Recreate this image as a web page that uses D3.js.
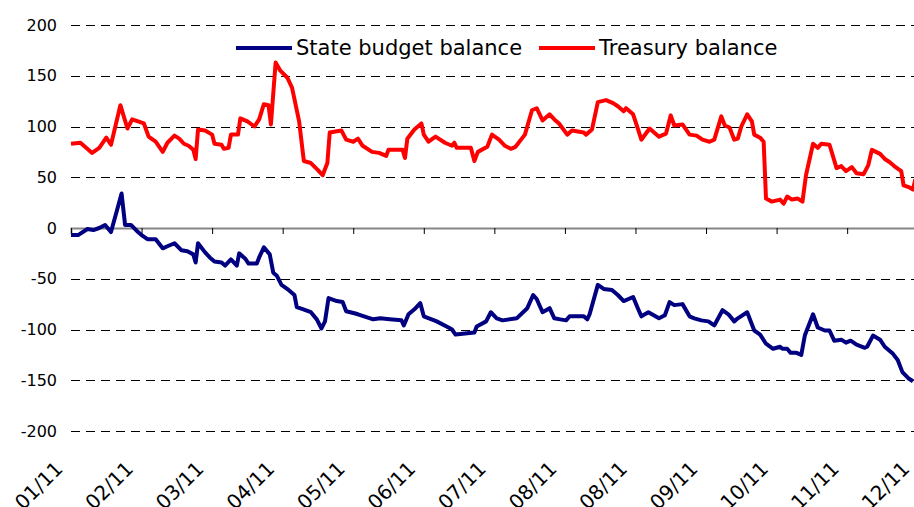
<!DOCTYPE html>
<html>
<head>
<meta charset="utf-8">
<script src="https://cdn.jsdelivr.net/npm/d3@7"></script>
<style>
  body { margin: 0; background: #fff; }
  svg { display: block; font-family: "DejaVu Sans", Verdana, sans-serif; }
</style>
</head>
<body>
<div id="chart"></div>
<script>
// Tick labels of the date axis (one every 30 days)
const xTickLabels = ['01/11', '02/11', '03/11', '04/11', '05/11', '06/11', '07/11',
  '08/11', '08/11', '09/11', '10/11', '11/11', '12/11'];
const yTicks = [-200, -150, -100, -50, 0, 50, 100, 150, 200];

// Treasury balance : days since start / value
const treasuryDays = [0, 4, 9, 12, 15, 17, 21, 24, 26, 31, 33, 36, 39, 41, 44, 46, 48, 50, 52, 53,
  54, 57, 60, 61, 64, 65, 67, 68, 71, 72, 75, 78, 80, 82, 84, 85, 87, 89, 92, 94,
  97, 99, 102, 105, 107, 109, 110, 115, 117, 120, 122, 124, 128, 131, 134, 135, 141, 142, 143, 146,
  149, 150, 152, 155, 159, 162, 163, 164, 170, 171.5, 173, 177, 179, 182, 184.5, 187, 189, 193, 196, 198,
  200.5, 203.5, 205.5, 207.5, 211, 213, 218, 219, 221.5, 224, 227.5, 230.5, 232.5, 235, 236, 239, 241, 242.5, 246, 250,
  253, 255, 256.5, 260, 263, 266, 268.5, 271.5, 273.5, 276.5, 278, 280, 282, 283.5, 285, 287.5, 289.5, 290.5, 293, 294.5,
  295.5, 298, 301.5, 303, 304.5, 306.5, 309, 311, 312.5, 315.5, 317.5, 319, 322.5, 325.5, 327.5, 329.5, 332, 334, 337, 339,
  340.5, 344, 346, 348, 350, 353, 354, 356.5, 358, 359];
const treasuryValues = [83, 84, 74, 79, 89, 82, 121, 98, 107, 103, 90, 85, 75, 84, 91, 88, 83, 81, 77, 68,
  97, 96, 92, 83, 82, 78, 79, 92, 92, 108, 105, 100, 107, 122, 121, 102, 163, 155, 148, 138,
  105, 66, 64, 57, 52, 64, 94, 96, 87, 85, 88, 81, 75, 74, 71, 77, 77, 69, 88, 97,
  103, 92, 85, 90, 84, 81, 84, 79, 79, 66, 75, 80, 92, 87, 81, 78, 80, 92, 116, 118,
  106, 112, 107, 103, 92, 96, 94, 92, 97, 124, 126, 123, 120, 115, 118, 112, 98, 87, 98, 90,
  93, 111, 101, 102, 92, 91, 87, 85, 87, 110, 101, 99, 87, 88, 100, 112, 105, 92, 89, 85,
  29, 26, 28, 24, 31, 28, 29, 26, 52, 83, 79, 83, 82, 59, 61, 56, 60, 54, 53, 62,
  77, 73, 68, 65, 61, 56, 42, 40, 38, 48];

// State budget balance : days since start / value
const budgetDays = [0, 3, 7, 9.5, 12, 14.5, 17, 19.5, 21.5, 23, 25.5, 28.5, 30, 32.5, 36, 39, 41, 44, 47, 49.5,
  52, 53, 54, 57, 59, 61, 64, 65.5, 68, 70.5, 71.5, 74, 75.5, 79, 80, 82, 84.5, 86, 87.5, 89.5,
  92.5, 95, 96, 98.5, 102, 104.5, 106.5, 108, 109.5, 113, 115.5, 117, 120.5, 122, 128.5, 131.5, 135.5, 140.5, 141.5, 143.5,
  146.5, 148.5, 150, 155.5, 160.5, 162, 163.5, 167.5, 171.5, 172.5, 176.5, 178.5, 181, 183.5, 189.5, 194, 196.5, 198, 200.5, 203.5,
  205.5, 208, 210.5, 212, 218, 219.5, 220.5, 224, 226.5, 230, 232.5, 235, 239, 241, 242.5, 245.5, 250, 252.5, 254.5, 256.5,
  260, 263, 265, 268, 271, 273.5, 277, 279.5, 282, 283.5, 287.5, 290.5, 293, 295.5, 298.5, 301.5, 302.5, 304.5, 306, 308.5,
  310.5, 312, 315.5, 317.5, 320.5, 322.5, 324.5, 327.5, 329.5, 331.5, 334, 337.5, 338.5, 341, 344, 346, 349.5, 351.5, 353.5, 356,
  358];
const budgetValues = [-7, -7, -1, -2, 0, 3, -4, 17, 34, 3, 3, -4, -7, -11, -11, -20, -18, -15, -22, -23,
  -26, -34, -15, -24, -29, -33, -34, -37, -31, -37, -25, -30, -35, -35, -29, -19, -26, -44, -47, -56,
  -61, -66, -78, -80, -83, -90, -99, -92, -69, -72, -73, -82, -84, -85, -90, -89, -90, -91, -96, -85,
  -79, -74, -87, -92, -98, -100, -105, -104, -103, -97, -92, -83, -89, -91, -89, -79, -66, -70, -83, -79,
  -89, -90, -91, -87, -87, -90, -85, -56, -60, -61, -66, -72, -68, -79, -87, -83, -89, -86, -73, -76,
  -75, -87, -89, -91, -92, -96, -81, -85, -92, -89, -83, -101, -105, -114, -119, -117, -119, -119, -123, -123,
  -125, -106, -85, -98, -101, -101, -111, -110, -113, -111, -115, -118, -117, -106, -110, -117, -124, -130, -142, -148,
  -151];

const width = 914;
const height = 507;

const svg = d3.select('#chart')
  .append('svg')
  .attr('width', width)
  .attr('height', height);

// Echelles
const x = d3.scaleLinear().domain([0, 360]).range([71, 917.7]);
const y = d3.scaleLinear().domain([-200, 200]).range([431, 25]);

// Grille horizontale (pointillés) sauf zéro
svg.append('g')
  .selectAll('line')
  .data(yTicks.filter(d => d !== 0))
  .enter().append('line')
  .attr('x1', x(0))
  .attr('x2', width)
  .attr('y1', d => Math.round(y(d)) + 0.5)
  .attr('y2', d => Math.round(y(d)) + 0.5)
  .attr('stroke', '#000')
  .attr('stroke-width', 1)
  .attr('stroke-dasharray', '9,6');

// Libellés de l'axe Y
svg.append('g')
  .selectAll('text')
  .data(yTicks)
  .enter().append('text')
  .attr('x', 57)
  .attr('y', d => y(d))
  .attr('dy', '0.35em')
  .attr('text-anchor', 'end')
  .attr('font-size', 16)
  .attr('fill', '#000')
  .text(d => d);

// Axe horizontal à zéro avec ses graduations
const tickValues = xTickLabels.map((d, i) => i * 30);
const xAxis = d3.axisBottom(x)
  .tickValues(tickValues)
  .tickSize(6)
  .tickFormat('');
const gx = svg.append('g')
  .attr('transform', `translate(0,${Math.round(y(0))})`)
  .call(xAxis);
gx.select('.domain').attr('stroke', '#868686').attr('stroke-width', 2);
gx.selectAll('.tick line').attr('stroke', '#000');

// Libellés de dates, en bas, inclinés
svg.append('g')
  .selectAll('text')
  .data(xTickLabels)
  .enter().append('text')
  .attr('transform', (d, i) => `translate(${x(i * 30) - 7},470) rotate(-45)`)
  .attr('text-anchor', 'end')
  .attr('font-size', 20)
  .attr('fill', '#000')
  .text(d => d);

// Courbes
const line = d3.line()
  .x(d => x(d[0]))
  .y(d => y(d[1]));

const treasury = treasuryDays.map((d, i) => [d, treasuryValues[i]]);
const budget = budgetDays.map((d, i) => [d, budgetValues[i]]);

svg.append('path')
  .datum(treasury)
  .attr('d', line)
  .attr('fill', 'none')
  .attr('stroke', '#ff0000')
  .attr('stroke-width', 4)
  .attr('stroke-linejoin', 'round');

svg.append('path')
  .datum(budget)
  .attr('d', line)
  .attr('fill', 'none')
  .attr('stroke', '#000080')
  .attr('stroke-width', 4)
  .attr('stroke-linejoin', 'round');

// Légende
const legend = [
  { name: 'State budget balance', color: '#000080', x: 236 },
  { name: 'Treasury balance', color: '#ff0000', x: 539 }
];
const lg = svg.append('g')
  .selectAll('g')
  .data(legend)
  .enter().append('g')
  .attr('transform', d => `translate(${d.x},48)`);
lg.append('line')
  .attr('x1', 0)
  .attr('x2', 56)
  .attr('stroke', d => d.color)
  .attr('stroke-width', 4);
lg.append('text')
  .attr('x', 60)
  .attr('dy', '0.35em')
  .attr('font-size', 21)
  .attr('fill', '#000')
  .text(d => d.name);
</script>
</body>
</html>
